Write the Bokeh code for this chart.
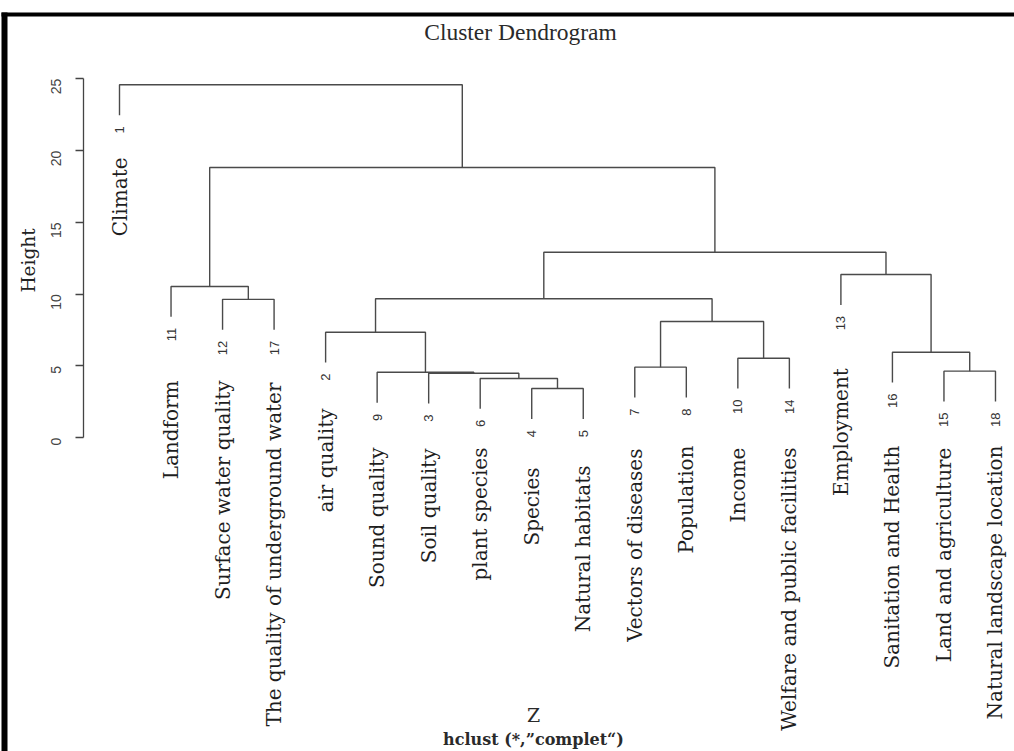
import math
from bokeh.plotting import figure
from bokeh.models import (Range1d, LinearAxis, FixedTicker, ColumnDataSource,
                          BoxAnnotation)
from bokeh.core.properties import value
from bokeh.embed import file_html
from bokeh.resources import INLINE

# ---------------- data ----------------
leaf_names = ["Climate", "air quality", "Soil quality", "Species", "Natural habitats",
              "plant species", "Vectors of diseases", "Population", "Sound quality",
              "Income", "Landform", "Surface water quality", "Employment",
              "Welfare and public facilities", "Land and agriculture",
              "Sanitation and Health", "The quality of underground water",
              "Natural landscape location"]          # names of leaves 1..18
leaf_order = [1, 11, 12, 17, 2, 9, 3, 6, 4, 5, 7, 8, 10, 14, 13, 16, 15, 18]

# hclust-style merge table (negative = leaf id, positive = earlier merge step)
merge_left = [-4, -6, -3, -9, -15, -7, -10, -16, -2, 6, -12, 9, -11, -13, 12, 13, -1]
merge_right = [-5, 1, 2, 3, -18, -8, -14, 5, 4, 7, -17, 10, 11, 8, 14, 15, 16]
merge_height = [3.43, 4.13, 4.50, 4.56, 4.64, 4.92, 5.54, 5.96, 7.35, 8.10,
                9.64, 9.68, 10.54, 11.37, 12.92, 18.82, 24.58]

y_ticks = [0, 5, 10, 15, 20, 25]

# height (data units) where each hand-placed name label ends, in leaf_order
name_label_top = [19.52, 3.99, 3.99, 3.85, 2.04, -0.68, -0.75, -0.68, -2.07, -1.93,
                  -0.75, -0.54, -0.68, -0.68, 4.85, -0.54, -0.68, -0.54]

# ---------------- tree geometry ----------------
hang = 0.1 * (max(merge_height) - min(merge_height))
leaf_x = {lid: i + 1 for i, lid in enumerate(leaf_order)}
node_x, node_top = {}, {}
leaf_bottom = {}
xs, ys = [], []
for k, (a, b, h) in enumerate(zip(merge_left, merge_right, merge_height), start=1):
    pts = []
    for c in (a, b):
        if c < 0:
            cx = leaf_x[-c]
            cy = h - hang
            leaf_bottom[-c] = cy
        else:
            cx, cy = node_x[c], node_top[c]
        pts.append((cx, cy))
    (xl, yl), (xr, yr) = pts
    xs.append([xl, xl, xr, xr])
    ys.append([yl, h, h, yr])
    node_x[k] = (xl + xr) / 2
    node_top[k] = h

# ---------------- figure ----------------
W, H = 1014, 751
AXIS_X = 0.3014
p = figure(width=W, height=H, output_backend="svg", toolbar_location=None,
           x_axis_type=None, y_axis_type=None,
           x_range=Range1d(-1.3094, 18.369), y_range=Range1d(-21.845, 30.452),
           min_border_left=0, min_border_right=0, min_border_top=0,
           min_border_bottom=0)
p.outline_line_color = None
p.background_fill_color = "white"
p.border_fill_color = "white"

yax = LinearAxis(bounds=(0, 25), ticker=FixedTicker(ticks=y_ticks),
                 fixed_location=AXIS_X)
yax.axis_line_color = "#444444"
yax.axis_line_width = 1.3
yax.major_tick_line_color = "#444444"
yax.major_tick_line_width = 1.3
yax.major_tick_out = 8
yax.major_tick_in = 0
yax.minor_tick_line_color = None
yax.major_label_orientation = math.pi / 2
yax.major_label_standoff = 19
yax.major_label_text_font = "Liberation Sans"
yax.major_label_text_font_size = "14px"
yax.major_label_text_color = "#444444"
p.add_layout(yax, "left")

p.multi_line(xs=xs, ys=ys, line_color="#4a4a4a", line_width=1.4)

num_src = ColumnDataSource(dict(
    x=[leaf_x[l] for l in leaf_order],
    y=[leaf_bottom[l] for l in leaf_order],
    t=[str(l) for l in leaf_order]))
p.text(x="x", y="y", text="t", source=num_src, angle=math.pi / 2,
       text_align="right", text_baseline="middle", y_offset=11,
       text_font=value("Liberation Sans"), text_font_size="13px",
       text_color="#333333")

name_src = ColumnDataSource(dict(
    x=[leaf_x[l] for l in leaf_order],
    y=name_label_top,
    t=[leaf_names[l - 1] for l in leaf_order]))
p.text(x="x", y="y", text="t", source=name_src, angle=math.pi / 2,
       text_align="right", text_baseline="middle",
       text_font=value("DejaVu Serif"), text_font_size="20px",
       text_color="#1e1e1e")

# axis title, main title, x label and sub title
p.text(x=[-0.766], y=[12.35], text=["Height"], angle=math.pi / 2,
       text_align="center", text_baseline="middle",
       text_font=value("DejaVu Serif"), text_font_size="18.5px",
       text_color="#222222")
p.text(x=[8.782], y=[28.26], text=["Cluster Dendrogram"],
       text_align="center", text_baseline="middle",
       text_font=value("Liberation Serif"), text_font_size="23.5px",
       text_color="#2a2a2a")
p.text(x=[9.034], y=[-19.33], text=["Z"],
       text_align="center", text_baseline="middle",
       text_font=value("DejaVu Serif"), text_font_size="19px",
       text_color="#2a2a2a")
p.text(x=[9.034], y=[-21.04], text=["hclust (*,\u201dcomplet\u201c)"],
       text_align="center", text_baseline="middle",
       text_font=value("DejaVu Serif"), text_font_size="16px",
       text_font_style="bold", text_color="#2a2a2a")

top_border = BoxAnnotation(left=1, right=W, top=12, bottom=16,
                           left_units="canvas", right_units="canvas",
                           top_units="canvas", bottom_units="canvas",
                           fill_color="black", fill_alpha=1, line_color=None)
left_border = BoxAnnotation(left=1, right=7, top=12, bottom=H,
                            left_units="canvas", right_units="canvas",
                            top_units="canvas", bottom_units="canvas",
                            fill_color="black", fill_alpha=1, line_color=None)
p.add_layout(top_border)
p.add_layout(left_border)

open("out.html", "w").write(file_html(p, INLINE))
